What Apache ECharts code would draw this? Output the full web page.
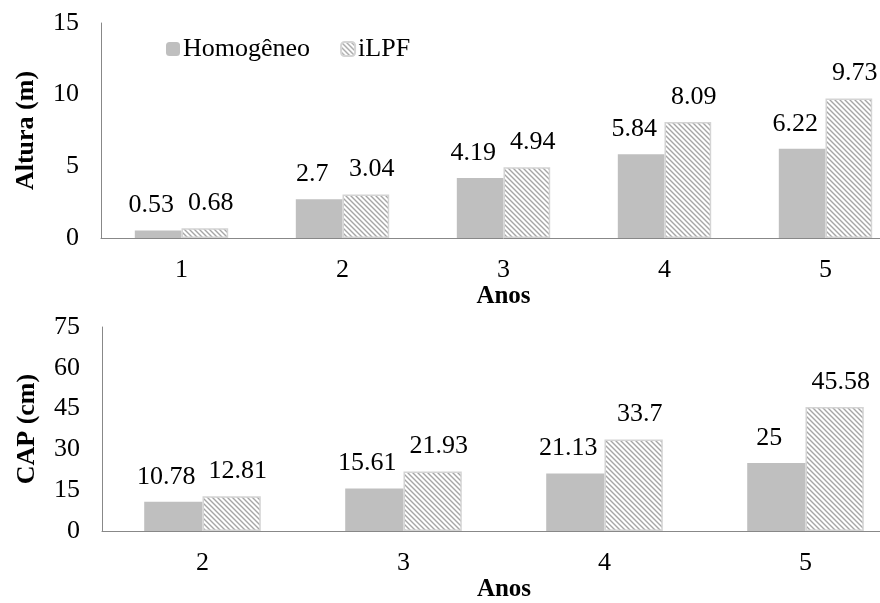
<!DOCTYPE html>
<html>
<head>
<meta charset="utf-8">
<script src="https://cdn.jsdelivr.net/npm/echarts@6/dist/echarts.min.js"></script>
<style>html,body{margin:0;padding:0;background:#fff;overflow:hidden}#c{width:906px;height:603px}</style>
</head>
<body>
<div id="c"></div>
<script>
// ---- data ----
const seriesNames = ['Homogêneo', 'iLPF'];
const alturaYears = ['1', '2', '3', '4', '5'];
const alturaHomogeneo = [0.53, 2.7, 4.19, 5.84, 6.22];
const alturaILPF = [0.68, 3.04, 4.94, 8.09, 9.73];
const capYears = ['2', '3', '4', '5'];
const capHomogeneo = [10.78, 15.61, 21.13, 25];
const capILPF = [12.81, 21.93, 33.7, 45.58];
const alturaTicks = [0, 5, 10, 15];
const capTicks = [0, 15, 30, 45, 60, 75];

// hatch pattern
function hatch() {
  const s = 5;
  const c = document.createElement('canvas');
  c.width = s; c.height = s;
  const g = c.getContext('2d');
  g.fillStyle = '#ffffff';
  g.fillRect(0, 0, s, s);
  g.strokeStyle = '#a6a6a6';
  g.lineWidth = 1.4;
  g.beginPath();
  g.moveTo(-1, -1); g.lineTo(s + 1, s + 1);
  g.moveTo(-1, s - 1); g.lineTo(1, s + 1);
  g.moveTo(s - 1, -1); g.lineTo(s + 1, 1);
  g.stroke();
  return { image: c, repeat: 'repeat' };
}
const pattern = hatch();
const FONT = '"Liberation Serif", "Times New Roman", serif';
const FS = 26;
const homoColor = '#bfbfbf';
const axisColor = '#888888';

function labelCfg(dx) {
  return { show: true, position: 'top', distance: 12, offset: [dx, 0], fontFamily: FONT, fontSize: FS, color: '#000' };
}

function xAx(idx, cats, gap) {
  return {
    type: 'category', gridIndex: idx, data: cats,
    axisLine: { lineStyle: { color: axisColor, width: 1 } },
    axisTick: { show: false },
    axisLabel: { fontFamily: FONT, fontSize: FS, color: '#000', margin: 19 },
    name: 'Anos', nameLocation: 'middle', nameGap: gap,
    nameTextStyle: { fontFamily: FONT, fontSize: 25, fontWeight: 'bold', color: '#000' }
  };
}
function yAx(idx, ticks, name) {
  return {
    type: 'value', gridIndex: idx, min: ticks[0], max: ticks[ticks.length - 1],
    interval: ticks[1] - ticks[0],
    axisLine: { show: true, lineStyle: { color: axisColor, width: 1 } },
    axisTick: { show: false },
    splitLine: { show: false },
    axisLabel: { fontFamily: FONT, fontSize: FS, color: '#000', margin: 22 },
    name: name, nameLocation: 'middle', nameRotate: 90, nameGap: 62,
    nameTextStyle: { fontFamily: FONT, fontSize: 26, fontWeight: 'bold', color: '#000' }
  };
}
function bar(name, data, idx, isHatch) {
  return {
    name: name, type: 'bar', xAxisIndex: idx, yAxisIndex: idx, data: data,
    barGap: '0%', barCategoryGap: '42%',
    itemStyle: isHatch ? { color: pattern, borderColor: '#d4d4d4', borderWidth: 1.5 } : { color: homoColor },
    label: labelCfg(isHatch ? 6 : -7)
  };
}

const chart = echarts.init(document.getElementById('c'), null, { renderer: 'canvas' });
chart.setOption({
  animation: false,
  backgroundColor: '#fff',
  legend: {
    data: seriesNames, left: 161, top: 31, itemWidth: 14, itemHeight: 14, itemGap: 30,
    textStyle: { fontFamily: FONT, fontSize: FS, color: '#000', padding: [0, 0, 0, -2] }
  },
  grid: [
    { left: 101, right: 0, top: 23, height: 215 },
    { left: 102, right: 0, top: 327, height: 213 }
  ],
  xAxis: [xAx(0, alturaYears, 45), xAx(1, capYears, 42)],
  yAxis: [yAx(0, alturaTicks, 'Altura (m)'), yAx(1, capTicks, 'CAP (cm)')],
  series: [
    bar(seriesNames[0], alturaHomogeneo, 0, false),
    bar(seriesNames[1], alturaILPF, 0, true),
    bar(seriesNames[0], capHomogeneo, 1, false),
    bar(seriesNames[1], capILPF, 1, true)
  ]
});
</script>
</body>
</html>
